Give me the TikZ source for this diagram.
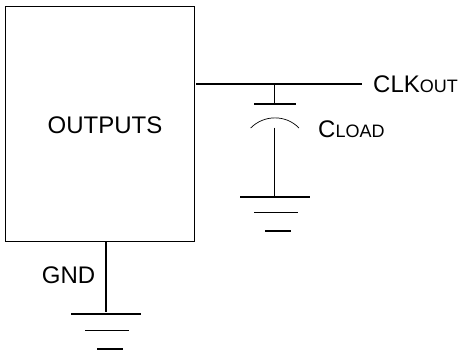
\documentclass[tikz,border=0pt]{standalone}
\usepackage{fontspec}
\setmainfont{Liberation Sans}
\tikzset{wire/.style={draw=black,line width=1.8pt},thin wire/.style={draw=black,line width=0.9pt},arc wire/.style={draw=black,line width=0.7pt},lbl/.style={inner sep=0pt,text=black,text height=17pt,text depth=0pt}}
\newcommand{\bigf}{\fontsize{24pt}{26pt}\selectfont}
\newcommand{\smc}[1]{{\fontsize{18pt}{20pt}\selectfont #1}}
\begin{document}
\begin{tikzpicture}[x=1pt,y=-1pt]
\useasboundingbox (0,0) rectangle (462,352);
\node[draw=black,line width=0.9pt,minimum width=189.5pt,minimum height=234.5pt,inner sep=0pt] (box) at (100,124.2) {};
\node[lbl] (outputs) at (105,125) {\bigf OUTPUTS};
\coordinate (t1) at (196,84);
\coordinate (t2) at (362,84);
\draw[wire] (t1)--(t2);
\node[lbl,anchor=west] (clk) at (373,84.5) {\bigf CLK\smc{OUT}};
\coordinate (c1) at (274.3,84);
\coordinate (c2) at (274.3,104);
\draw[thin wire] (c1)--(c2);
\coordinate (p1) at (254,104);
\coordinate (p2) at (296,104);
\draw[wire] (p1)--(p2);
\coordinate (a1) at (250.7,128);
\coordinate (a2) at (299,128);
\draw[arc wire] (a1) .. controls (264,114.5) and (286,114.5) .. (a2);
\coordinate (c3) at (274.3,127.7);
\coordinate (c4) at (274.3,197);
\draw[thin wire] (c3)--(c4);
\node[lbl,anchor=west] (cload) at (318,129) {\bigf C\smc{LOAD}};
\coordinate (g1) at (240,197);
\coordinate (g2) at (310,197);
\draw[wire] (g1)--(g2);
\coordinate (g3) at (254,212.5);
\coordinate (g4) at (298,212.5);
\draw[thin wire] (g3)--(g4);
\coordinate (g5) at (265,231);
\coordinate (g6) at (291,231);
\draw[wire] (g5)--(g6);
\coordinate (v1) at (106,241.5);
\coordinate (v2) at (106,312);
\draw[wire] (v1)--(v2);
\node[lbl] (gnd) at (68.5,275) {\bigf GND};
\coordinate (h1) at (71,314);
\coordinate (h2) at (141,314);
\draw[wire] (h1)--(h2);
\coordinate (h3) at (85,330.5);
\coordinate (h4) at (129,330.5);
\draw[thin wire] (h3)--(h4);
\coordinate (h5) at (97,349);
\coordinate (h6) at (123,349);
\draw[wire] (h5)--(h6);
\end{tikzpicture}
\end{document}
